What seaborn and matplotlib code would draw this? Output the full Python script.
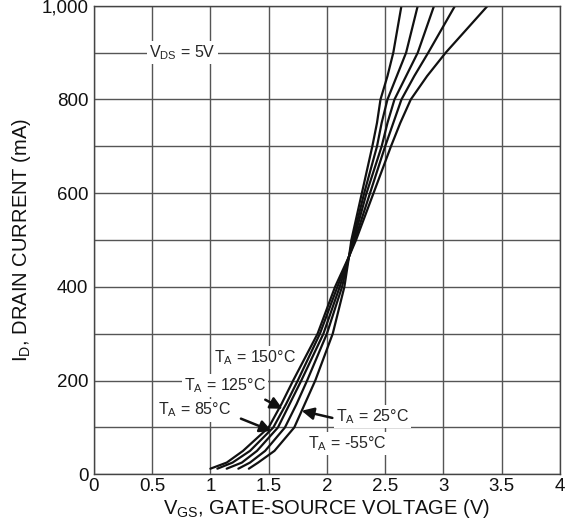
import matplotlib
matplotlib.use("Agg")
import matplotlib.pyplot as plt
from matplotlib.ticker import FuncFormatter, MultipleLocator
import numpy as np
import pandas as pd
import seaborn as sns

# Drain current levels (mA) at which each transfer curve is sampled
drain_ma = [12, 25, 50, 100, 150, 200, 300, 400, 465, 500, 600, 700, 750, 800, 850, 900, 1000]

# Gate-source voltage (V) for each curve at the drain current levels above
vgs_150 = [1.00, 1.14, 1.28, 1.50, 1.61, 1.71, 1.92, 2.07, 2.19, 2.25, 2.40, 2.55, 2.63, 2.72, 2.86, 3.02, 3.38]
vgs_125 = [1.06, 1.19, 1.34, 1.54, 1.65, 1.75, 1.94, 2.09, 2.19, 2.24, 2.37, 2.50, 2.57, 2.64, 2.75, 2.87, 3.10]
vgs_85 = [1.14, 1.27, 1.40, 1.58, 1.68, 1.78, 1.97, 2.11, 2.19, 2.23, 2.34, 2.47, 2.52, 2.58, 2.68, 2.78, 2.92]
vgs_25 = [1.24, 1.34, 1.47, 1.64, 1.74, 1.83, 2.00, 2.13, 2.19, 2.22, 2.32, 2.43, 2.47, 2.52, 2.60, 2.68, 2.78]
vgs_m55 = [1.33, 1.41, 1.55, 1.72, 1.81, 1.90, 2.05, 2.15, 2.19, 2.21, 2.30, 2.39, 2.43, 2.46, 2.52, 2.57, 2.64]

temps = ["150", "125", "85", "25", "-55"]
x_ticks = [0, 0.5, 1, 1.5, 2, 2.5, 3, 3.5, 4]
y_ticks = [0, 200, 400, 600, 800, 1000]

frames = []
for t, v in zip(temps, [vgs_150, vgs_125, vgs_85, vgs_25, vgs_m55]):
    frames.append(pd.DataFrame({"vgs": v, "id": drain_ma, "temp": t}))
df = pd.concat(frames, ignore_index=True)

sns.set_theme(style="white")
plt.rcParams["font.family"] = ["Liberation Sans", "DejaVu Sans"]
plt.rcParams["mathtext.fontset"] = "custom"
plt.rcParams["mathtext.rm"] = "Liberation Sans"
plt.rcParams["mathtext.it"] = "Liberation Sans"

fig = plt.figure(figsize=(5.69, 5.27), dpi=100)
ax = fig.add_axes([0.165, 0.1, 0.819, 0.889])

sns.lineplot(data=df, x="vgs", y="id", hue="temp", units="temp", estimator=None,
             sort=False, palette=["#111111"] * 5, linewidth=1.6, legend=False, ax=ax)

ax.set_xlim(0, 4)
ax.set_ylim(0, 1000)
ax.set_xticks(x_ticks)
ax.set_xticklabels([f"{v:g}" for v in x_ticks])
ax.set_yticks(y_ticks)
ax.yaxis.set_minor_locator(MultipleLocator(100))
ax.yaxis.set_major_formatter(FuncFormatter(lambda v, p: f"{int(v):,}"))
ax.grid(True, which="both", color="#555555", linewidth=1.0)
ax.set_axisbelow(True)
ax.tick_params(axis="both", which="both", length=0, labelsize=13.5, colors="#111111")
ax.tick_params(axis="x", pad=3)
ax.tick_params(axis="y", pad=4)
for s in ax.spines.values():
    s.set_color("#444444")
    s.set_linewidth(1.0)

ax.set_xlabel(r"V$_{\mathrm{GS}}$, GATE-SOURCE VOLTAGE (V)", fontsize=14.5, color="#111111", labelpad=1)
ax.set_ylabel(r"I$_{\mathrm{D}}$, DRAIN CURRENT (mA)", fontsize=14.5, color="#111111", labelpad=6)

box = dict(facecolor="white", edgecolor="none", pad=1.5)
fs = 11.5
ax.text(0.76, 900, r"V$_{\mathrm{DS}}$ = 5V", fontsize=fs, ha="center", va="center", bbox=box)
ax.text(1.03, 250, r"T$_{\mathrm{A}}$ = 150°C", fontsize=fs, ha="left", va="center", bbox=box)
ax.text(0.77, 190, r"T$_{\mathrm{A}}$ = 125°C", fontsize=fs, ha="left", va="center", bbox=box)
ax.text(0.55, 137, r"T$_{\mathrm{A}}$ = 85°C", fontsize=fs, ha="left", va="center", bbox=box)
ax.text(2.08, 124, r"T$_{\mathrm{A}}$ = 25°C", fontsize=fs, ha="left", va="center", bbox=box)
ax.text(1.84, 66, r"T$_{\mathrm{A}}$ = -55°C", fontsize=fs, ha="left", va="center", bbox=box)

arrow = dict(arrowstyle="-|>,head_length=0.6,head_width=0.3", color="#111111", lw=1.8)
ax.annotate("", xy=(1.64, 137), xytext=(1.45, 162), arrowprops=arrow)
ax.annotate("", xy=(1.55, 90), xytext=(1.24, 121), arrowprops=arrow)
ax.annotate("", xy=(1.76, 137), xytext=(2.07, 119), arrowprops=arrow)

fig.savefig("out.png", dpi=100, facecolor="white")
